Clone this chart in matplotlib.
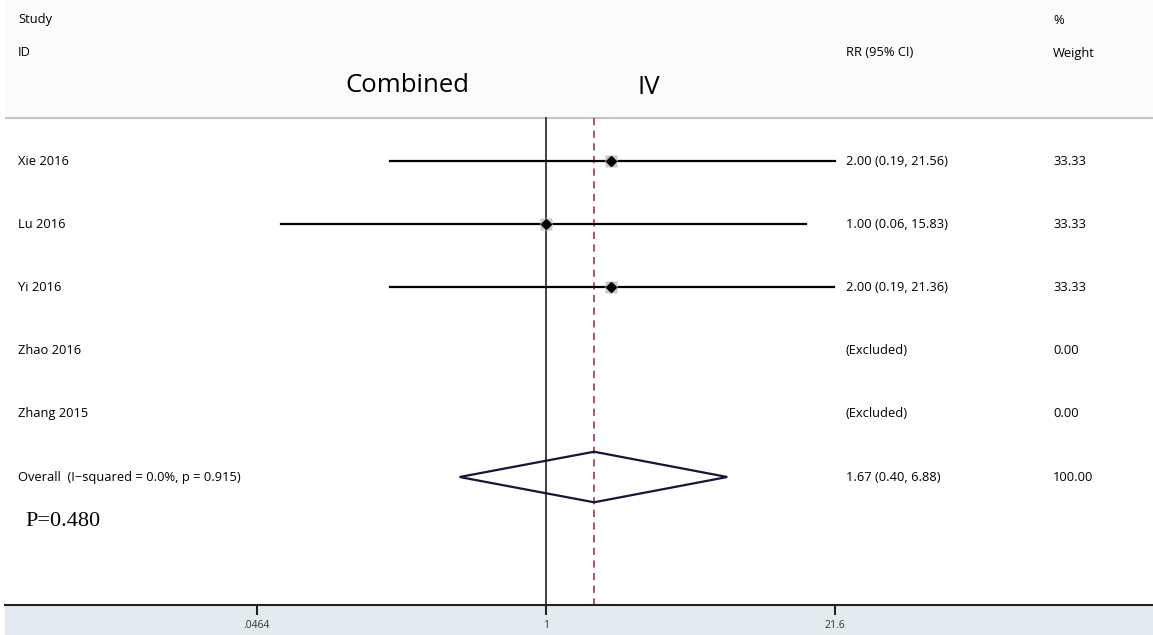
import matplotlib.pyplot as plt
import numpy as np
from matplotlib.patches import Rectangle, Polygon

plt.rcParams['font.family'] = ['Open Sans', 'DejaVu Sans']

# 各研究的 RR 及 95% CI（排除的研究為 None）
studies = ['Xie 2016', 'Lu 2016', 'Yi 2016', 'Zhao 2016', 'Zhang 2015']
rr = [2.00, 1.00, 2.00, None, None]
ci_low = [0.19, 0.06, 0.19, None, None]
ci_high = [21.56, 15.83, 21.36, None, None]
weights = [33.33, 33.33, 33.33, 0.00, 0.00]

# 合併效應
overall_label = 'Overall  (I\u2212squared = 0.0%, p = 0.915)'
overall_rr, overall_low, overall_high = 1.67, 0.40, 6.88
overall_weight = 100.00
p_text = 'P=0.480'

tick_values = [0.0464, 1, 21.6]
tick_labels = ['.0464', '1', '21.6']

W, H = 1153, 635
fig = plt.figure(figsize=(W / 100, H / 100), dpi=100)
fig.patch.set_facecolor('white')

# 底部灰藍色條
fig.patches.append(Rectangle((5 / W, 0), 1 - 5 / W, 30 / H, transform=fig.transFigure,
                             facecolor='#e4ebef', edgecolor='none', zorder=-10))

ax = fig.add_axes([5 / W, 30 / H, 1 - 5 / W, 605 / H])
ax.set_facecolor('white')
ax.set_xscale('log')
ax.set_xlim(np.exp((5 - 545.8) / 94.1), np.exp((1153 - 545.8) / 94.1))
ax.set_ylim(444 / 63.2, -161 / 63.2)

for s in ['top', 'right', 'left']:
    ax.spines[s].set_visible(False)
ax.spines['bottom'].set_linewidth(1.5)
ax.spines['bottom'].set_color('#222222')
ax.set_yticks([])
ax.set_xticks(tick_values)
ax.set_xticklabels(tick_labels)
ax.xaxis.set_minor_locator(plt.NullLocator())
ax.tick_params(axis='x', direction='out', length=7, width=1.5, color='#222222',
               labelsize=7.5, labelcolor='#333333', pad=4)

ylt = ax.get_yaxis_transform()
y_head_line = (118 - 161) / 63.2

# 表頭背景與分隔線
ax.add_patch(Rectangle((0, y_head_line), 1, -2.6, transform=ylt,
                       facecolor='#fbfbfb', edgecolor='none', zorder=0))
ax.plot([0, 1], [y_head_line, y_head_line], transform=ylt, color='#c4c4c4', lw=1.5)

# 參考線（無效線與合併效應線）
ax.plot([1, 1], [y_head_line, 7.1], color='#333333', lw=1.3, zorder=2)
ax.plot([overall_rr, overall_rr], [y_head_line, 7.1], color='#a5485a', lw=1.3,
        ls=(0, (4, 3)), zorder=2)

col_left = (18 - 5) / 1148
col_rr = (846 - 5) / 1148
col_w = (1053 - 5) / 1148

fs = 9.3
ax.text(col_left, (20 - 161) / 63.2, 'Study', transform=ylt, fontsize=fs, va='center')
ax.text(col_left, (53 - 161) / 63.2, 'ID', transform=ylt, fontsize=fs, va='center')
ax.text(col_rr, (53 - 161) / 63.2, 'RR (95% CI)', transform=ylt, fontsize=fs, va='center')
ax.text(col_w, (20 - 161) / 63.2, '%', transform=ylt, fontsize=fs, va='center')
ax.text(col_w, (53 - 161) / 63.2, 'Weight', transform=ylt, fontsize=fs, va='center')
ax.text((345 - 5) / 1148, (85 - 161) / 63.2, 'Combined', transform=ylt, fontsize=18.5,
        va='center')
ax.text((637 - 5) / 1148, (87 - 161) / 63.2, 'IV', transform=ylt, fontsize=18.5,
        va='center')

for i, name in enumerate(studies):
    ax.text(col_left, i, name, transform=ylt, fontsize=fs, va='center')
    ax.text(col_w, i, f'{weights[i]:.2f}', transform=ylt, fontsize=fs, va='center')
    if rr[i] is None:
        ax.text(col_rr, i, '(Excluded)', transform=ylt, fontsize=fs, va='center')
        continue
    ax.plot([ci_low[i], ci_high[i]], [i, i], color='black', lw=1.6, zorder=3)
    ax.plot(rr[i], i, marker='s', ms=8, color='#c8c8c8', mec='none', zorder=3.5)
    ax.plot(rr[i], i, marker='D', ms=5, color='black', zorder=4)
    ax.text(col_rr, i, f'{rr[i]:.2f} ({ci_low[i]:.2f}, {ci_high[i]:.2f})',
            transform=ylt, fontsize=fs, va='center')

# 合併效應菱形
k = len(studies)
dh = 0.4
ax.add_patch(Polygon([[overall_low, k], [overall_rr, k - dh], [overall_high, k],
                      [overall_rr, k + dh]], closed=True, facecolor='none',
                     edgecolor='#16163a', lw=1.6, zorder=4))
ax.text(col_left, k, overall_label, transform=ylt, fontsize=fs, va='center')
ax.text(col_rr, k, f'{overall_rr:.2f} ({overall_low:.2f}, {overall_high:.2f})',
        transform=ylt, fontsize=fs, va='center')
ax.text(col_w, k, f'{overall_weight:.2f}', transform=ylt, fontsize=fs, va='center')

ax.text((25 - 5) / 1148, (522 - 161) / 63.2, p_text, transform=ylt, fontsize=16,
        va='center', family=['Liberation Serif', 'DejaVu Serif'])

fig.savefig('out.png', dpi=100, facecolor=fig.get_facecolor())
